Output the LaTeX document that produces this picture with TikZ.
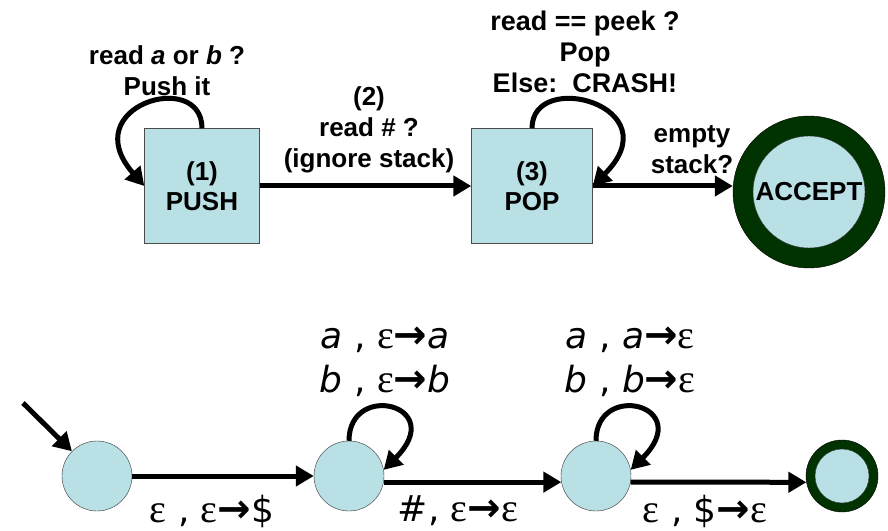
\documentclass[tikz,border=0pt]{standalone}
\usepackage{fontspec}
\setmainfont{Liberation Sans}
\newfontfamily\vfont{DejaVu Sans}
\newfontfamily\efont{Liberation Serif}
\usetikzlibrary{arrows.meta}
\definecolor{stblue}{RGB}{185,224,228}
\definecolor{stgreen}{RGB}{0,51,0}
\newcommand{\eps}{{\efont\fontsize{40}{40}\selectfont ε}}
\newcommand{\goes}{{\fontsize{40}{40}\selectfont\bfseries →}}

\begin{document}
\begin{tikzpicture}[x=1pt,y=1pt,
  edge/.style={line width=5pt,-{Triangle[length=18pt,width=20pt]}},
  box/.style={draw=black!70,fill=stblue,minimum width=115pt,minimum height=115pt,inner sep=0pt,align=center,font=\bfseries\fontsize{26}{30}\selectfont},
  state/.style={circle,draw=black!80,fill=stblue,minimum size=70pt,inner sep=0pt},
  lbl/.style={align=center,font=\bfseries\fontsize{26}{31}\selectfont},
  trans/.style={align=center,font=\vfont\fontsize{36}{44}\selectfont}]
\useasboundingbox (0,0) rectangle (888,530);

% Informal machine
\node[box] (push) at (202,344) {(1)\\PUSH};
\node[box,minimum width=121pt] (pop) at (532,344) {(3)\\POP};
\node[circle,draw=black,fill=stgreen,minimum size=152pt] (accept) at (809,338) {};
\node[circle,draw=black!80,fill=stblue,minimum size=112pt,inner sep=0pt,font=\bfseries\fontsize{26}{30}\selectfont] (accin) at (accept) {ACCEPT};

\draw[edge] (push) -- (pop);
\draw[edge] (push.north) .. controls +(0,60) and +(-70,80) .. (push.west);
\draw[edge] (pop.north) .. controls +(0,60) and +(80,80) .. (pop.east);
\draw[edge] (pop.east) -- (pop.east -| accept.west);

\node[lbl] (pushlbl) at (167,459) {read \textit{a} or \textit{b} ?\\Push it};
\node[lbl] (readlbl) at (369,400) {(2)\\read \# ?\\(ignore stack)};
\node[lbl,font=\bfseries\fontsize{27}{31}\selectfont] (poplbl) at (585,478) {read == peek ?\\Pop\\Else:\ \ CRASH!};
\node[lbl] (emptylbl) at (692,380) {empty\\stack?};

% PDA
\node[state] (s1) at (97,54) {};
\node[state] (s2) at (349,54) {};
\node[state] (s3) at (596,54) {};
\node[state,draw=black,fill=stgreen,minimum size=72pt] (s4) at (842,54) {};
\node[state,minimum size=54pt] (s4in) at (s4) {};
\coordinate (start) at (23,127);

\draw[edge] (start) -- (s1);
\draw[edge] (s1) -- (s2);
\draw[edge] (s2.-10) -- (s3.190);
\draw[edge] (s3.-10) -- (s4.190);
\draw[edge] (s2.north) .. controls +(0,60) and +(65,65) .. (s2.10);
\draw[edge] (s3.north) .. controls +(0,60) and +(65,65) .. (s3.10);

\node[trans] (t12) at (212,19) {\eps\ , \eps\goes\$};
\node[trans] (t22) at (385,168) {\textit{a} , \eps\goes\textit{a}\\\textit{b} , \eps\goes\textit{b}};
\node[trans] (t23) at (458,19) {\#, \eps\goes\eps};
\node[trans] (t33) at (630,168) {\textit{a} , \textit{a}\goes\eps\\\textit{b} , \textit{b}\goes\eps};
\node[trans] (t34) at (705,19) {\eps\ , \$\goes\eps};
\end{tikzpicture}
\end{document}
